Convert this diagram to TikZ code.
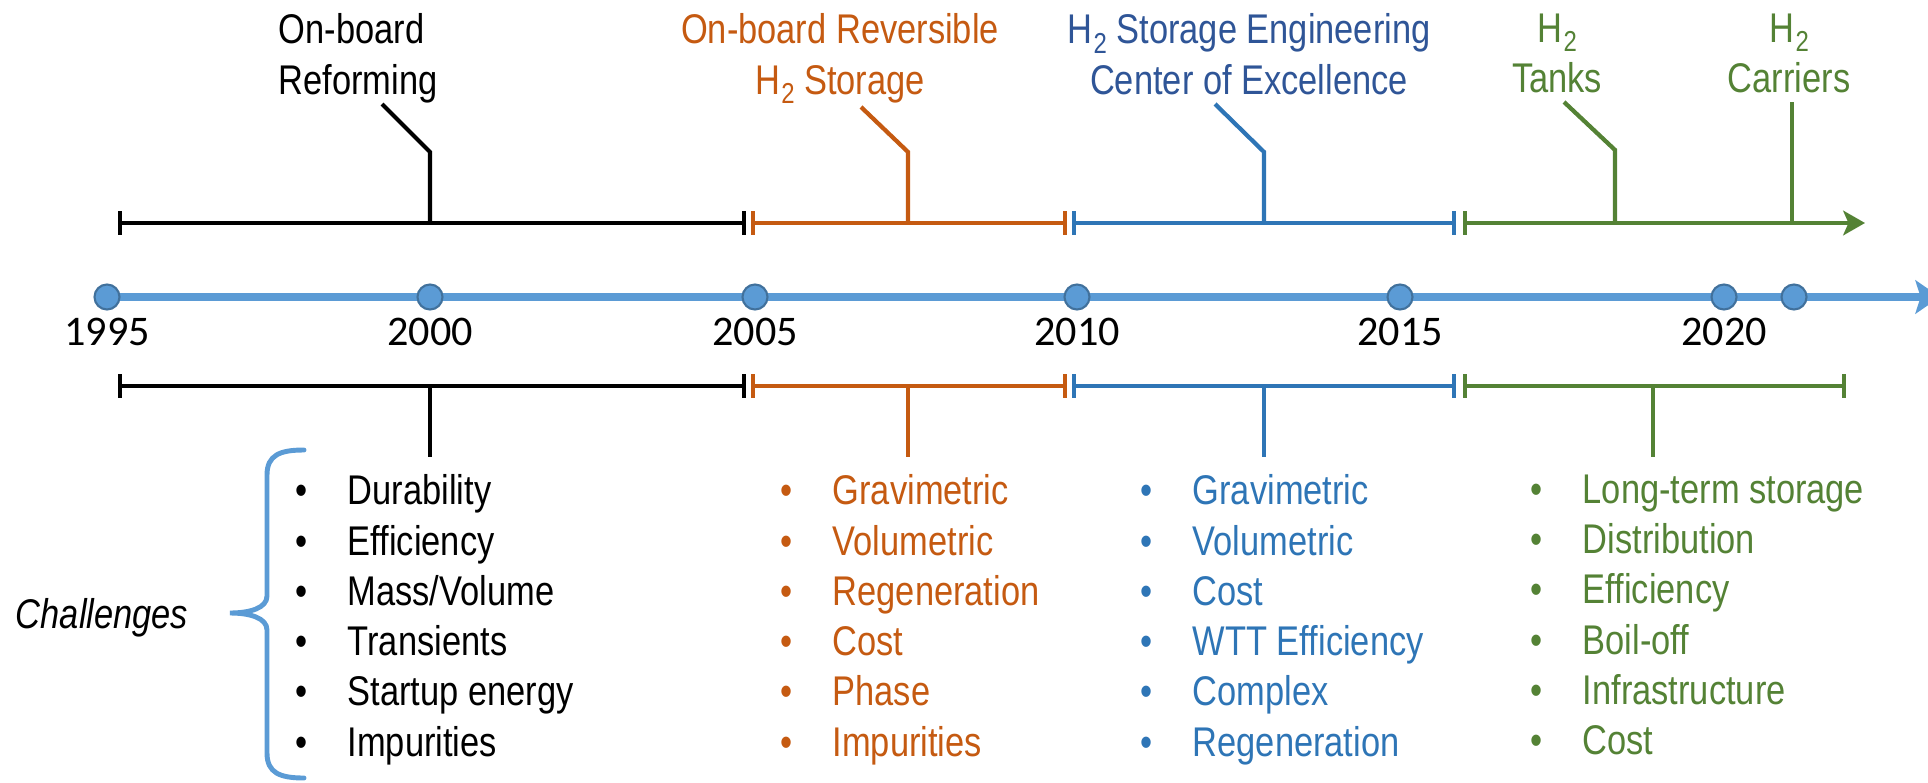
\documentclass[tikz,border=0pt]{standalone}
\usepackage{fontspec}
\setmainfont{Liberation Sans}[FakeStretch=0.83]
\newfontfamily\yearfont{Carlito}
\usepackage{tikz}
\usetikzlibrary{arrows.meta}
\definecolor{my_orange}{HTML}{C55A11}
\definecolor{my_blue}{HTML}{2E75B6}
\definecolor{my_navy}{HTML}{2F5597}
\definecolor{my_green}{HTML}{548235}
\definecolor{my_sky}{HTML}{5B9BD5}
\definecolor{my_skyedge}{HTML}{41719C}
\newcommand{\milestone}[2]{%
    \fill[my_sky, draw=my_skyedge, line width=0.6pt] (#1, 297) circle[radius=12.5];
    \node[yearlbl] (y#2) at (#1, 345) {#2};
}
\newcommand{\bul}{\makebox[0.52cm][l]{\textbullet}}
\newcommand{\Htwo}{H\kern0.4pt\raisebox{-2.7pt}{\fontsize{8.2}{8.2}\selectfont 2}}

\begin{document}
\begin{tikzpicture}[
    x=0.01cm, y=-0.01cm,
    txt/.style={inner sep=0pt, font=\fontsize{11.8}{14.3}\selectfont},
    headlbl/.style={txt, anchor=north, align=center},
    itemlist/.style={txt, anchor=north west, align=left},
    yearlbl/.style={inner sep=0pt, anchor=base, font=\yearfont\fontsize{12}{14}\selectfont},
    seg/.style={line width=1.2pt, {Bar[width=6.6pt]}-{Bar[width=6.6pt]}},
    leader/.style={line width=1.2pt},
    brace/.style={my_sky, line width=1.4pt, line cap=round}
]
\useasboundingbox (0, 0) rectangle (1928, 782);

% ---------------------------------------------------------------
%  time axis 1995 - 2021, phases above (programme) and below
%  (challenges); x and y in pixels of the original, y downwards
% ---------------------------------------------------------------

% ---- time axis ----
\draw[my_sky, line width=2.3pt, -{Stealth[length=7pt, width=9.5pt, inset=1.5pt]}]
    (107, 297) -- (1940, 297);
\milestone{107}{1995}
\milestone{430}{2000}
\milestone{755}{2005}
\milestone{1077}{2010}
\milestone{1400}{2015}
\milestone{1724}{2020}
\fill[my_sky, draw=my_skyedge, line width=0.6pt] (1794, 297) circle[radius=12.5];

% ---- phases, upper bar ----
\draw[seg] (118, 223) -- (746, 223);
\draw[seg, my_orange] (751, 223) -- (1067, 223);
\draw[seg, my_blue] (1072, 223) -- (1456, 223);
\draw[line width=1.2pt, my_green, {Bar[width=6.6pt]}-{Stealth[length=6.2pt, width=7pt, inset=1.5pt]}]
    (1463, 223) -- (1865, 223);

% ---- phases, lower bar ----
\draw[seg] (118, 386) -- (746, 386);
\draw[seg, my_orange] (751, 386) -- (1067, 386);
\draw[seg, my_blue] (1072, 386) -- (1456, 386);
\draw[seg, my_green] (1463, 386) -- (1846, 386);

% ---- programme labels ----
\node[txt, anchor=north west, align=left] (hd-ref) at (278, 13)
    {On-board\\Reforming};
\node[headlbl, my_orange] (hd-rev) at (840, 13)
    {On-board Reversible\\\Htwo{} Storage};
\node[headlbl, my_navy] (hd-coe) at (1249, 13)
    {\Htwo{} Storage Engineering\\Center of Excellence};
\node[headlbl, my_green] (hd-tank) at (1557, 13) {\Htwo\\Tanks};
\node[headlbl, my_green] (hd-carr) at (1789, 13) {\Htwo\\Carriers};

\coordinate (on-ref) at (430, 223);
\coordinate (kn-ref) at (430, 152);
\coordinate (tp-ref) at (382, 104);
\coordinate (on-rev) at (908, 223);
\coordinate (kn-rev) at (908, 152);
\coordinate (tp-rev) at (861, 107);
\coordinate (on-coe) at (1264, 223);
\coordinate (kn-coe) at (1264, 152);
\coordinate (tp-coe) at (1215, 104);
\coordinate (on-tank) at (1615, 223);
\coordinate (kn-tank) at (1615, 150);
\coordinate (tp-tank) at (1564, 102);
\coordinate (on-carr) at (1792, 223);
\coordinate (tp-carr) at (1792, 102);

\draw[leader] (on-ref) -- (kn-ref) -- (tp-ref);
\draw[leader, my_orange] (on-rev) -- (kn-rev) -- (tp-rev);
\draw[leader, my_blue] (on-coe) -- (kn-coe) -- (tp-coe);
\draw[leader, my_green] (on-tank) -- (kn-tank) -- (tp-tank);
\draw[leader, my_green] (on-carr) -- (tp-carr);

% ---- challenges ----
\node[itemlist] (ls-ref) at (295, 474)
    {\bul Durability\\\bul Efficiency\\\bul Mass/Volume\\
     \bul Transients\\\bul Startup energy\\\bul Impurities};
\node[itemlist, my_orange] (ls-rev) at (780, 474)
    {\bul Gravimetric\\\bul Volumetric\\\bul Regeneration\\
     \bul Cost\\\bul Phase\\\bul Impurities};
\node[itemlist, my_blue] (ls-coe) at (1140, 474)
    {\bul Gravimetric\\\bul Volumetric\\\bul Cost\\
     \bul WTT Efficiency\\\bul Complex\\\bul Regeneration};
\node[itemlist, my_green] (ls-h2) at (1530, 474)
    {\bul Long-term storage\\\bul Distribution\\\bul Efficiency\\
     \bul Boil-off\\\bul Infrastructure\\\bul Cost};

\coordinate (dn-ref) at (430, 386);
\coordinate (ft-ref) at (430, 457);
\coordinate (dn-rev) at (908, 386);
\coordinate (ft-rev) at (908, 457);
\coordinate (dn-coe) at (1264, 386);
\coordinate (ft-coe) at (1264, 457);
\coordinate (dn-h2) at (1653, 386);
\coordinate (ft-h2) at (1653, 457);

\draw[leader] (dn-ref) -- (ft-ref);
\draw[leader, my_orange] (dn-rev) -- (ft-rev);
\draw[leader, my_blue] (dn-coe) -- (ft-coe);
\draw[leader, my_green] (dn-h2) -- (ft-h2);

\node[txt, font=\fontsize{11.8}{14.3}\selectfont\itshape, anchor=base] (chal) at (102, 628)
    {Challenges};
\draw[brace] (304, 450) .. controls (280, 450) and (267, 455) .. (267, 475)
    -- (267, 596) .. controls (267, 608) and (250, 613) .. (230, 613)
    .. controls (250, 613) and (267, 618) .. (267, 630)
    -- (267, 753) .. controls (267, 773) and (280, 778) .. (304, 778);

\end{tikzpicture}
\end{document}
